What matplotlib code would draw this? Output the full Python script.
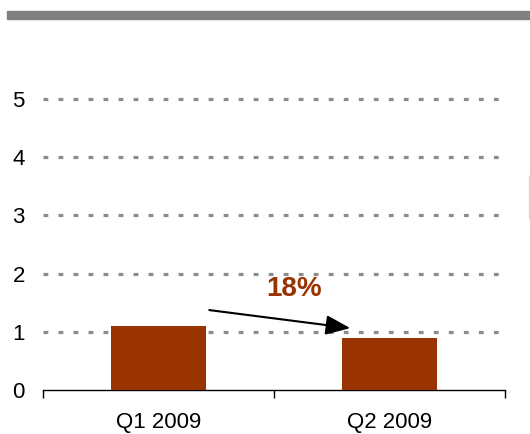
import matplotlib
matplotlib.use("Agg")
import matplotlib.pyplot as plt
from matplotlib.lines import Line2D
from matplotlib.patches import Rectangle

plt.rcParams['font.family'] = ['Liberation Sans', 'DejaVu Sans']

quarters = ["Q1 2009", "Q2 2009"]
values = [1.1, 0.9]
change_label = "18%"
y_ticks = [0, 1, 2, 3, 4, 5]

bar_color = "#993300"

fig = plt.figure(figsize=(5.3, 4.34), dpi=100)
ax = fig.add_axes([0.081, 0.101, 0.872, 0.671])

x = list(range(len(quarters)))
ax.bar(x, values, width=0.41, color=bar_color, zorder=3)

ax.set_xlim(-0.5, len(quarters) - 0.5)
ax.set_ylim(0, 5)

# dotted grey grid
ax.set_yticks(y_ticks)
ax.yaxis.grid(True, color="#8c8c8c", linewidth=2.3, linestyle=(0, (1.5, 3.2)), zorder=1)
for i, gl in enumerate(ax.get_ygridlines()):
    gl.set_clip_on(False)
    if i == 0:
        gl.set_visible(False)
ax.tick_params(axis="y", length=0, pad=13, labelsize=16)

ax.set_xticks(x)
ax.set_xticklabels(quarters)
ax.set_xticks([-0.5, 0.5, 1.5], minor=True)
ax.tick_params(axis="x", which="major", length=0, pad=16, labelsize=16)
ax.tick_params(axis="x", which="minor", length=6, width=1, color="black", direction="out")

for s in ["top", "right", "left"]:
    ax.spines[s].set_visible(False)
ax.spines["bottom"].set_linewidth(1)

# change arrow and label
ax.annotate("", xy=(0.83, 1.065), xytext=(0.22, 1.375),
            arrowprops=dict(arrowstyle="-|>,head_length=1.5,head_width=0.6",
                            color="black", lw=1.5, shrinkA=0, shrinkB=0), zorder=4)
ax.text(0.587, 1.74, change_label, color=bar_color, fontsize=20, fontweight="bold",
        ha="center", va="center", zorder=4)

# grey header band
fig.patches.append(Rectangle((7 / 530, 1 - 19 / 434), 1, 8 / 434,
                             transform=fig.transFigure, color="#808080", zorder=5))
# edge of a box on the right
fig.lines.append(Line2D([529 / 530, 529 / 530], [1 - 218 / 434, 1 - 176 / 434],
                        transform=fig.transFigure, color="#d9d9d9", lw=1))

fig.savefig("out.png", dpi=100)
